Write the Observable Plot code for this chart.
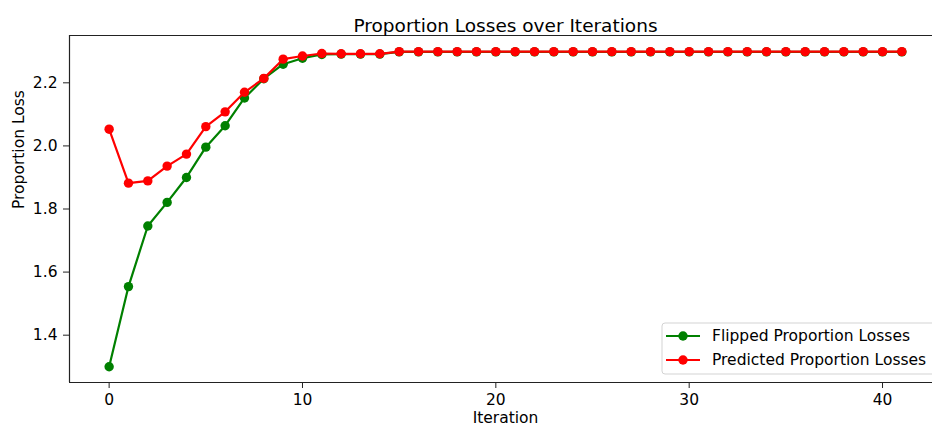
<!DOCTYPE html>
<html><head><meta charset="utf-8">
<script src="https://cdn.jsdelivr.net/npm/d3@7"></script>
<script src="https://cdn.jsdelivr.net/npm/@observablehq/plot@0.6"></script>
<style>
body{margin:0;background:#fff;}
#chart{position:relative;width:932px;height:434px;overflow:hidden;background:#fff}
</style>
</head><body><div id="chart"></div>
<script>
const iterations = [0,1,2,3,4,5,6,7,8,9,10,11,12,13,14,15,16,17,18,19,20,21,22,23,24,25,26,27,28,29,30,31,32,33,34,35,36,37,38,39,40,41];
const flipped = [1.300,1.554,1.746,1.821,1.900,1.996,2.064,2.152,2.213,2.259,2.278,2.290,2.291,2.291,2.291,
  2.298,2.298,2.298,2.298,2.298,2.298,2.298,2.298,2.298,2.298,2.298,2.298,2.298,2.298,2.298,2.298,2.298,2.298,2.298,2.298,2.298,2.298,2.298,2.298,2.298,2.298,2.298];
const predicted = [2.053,1.882,1.889,1.936,1.974,2.061,2.108,2.170,2.214,2.275,2.285,2.293,2.292,2.292,2.292,
  2.299,2.299,2.299,2.299,2.299,2.299,2.299,2.299,2.299,2.299,2.299,2.299,2.299,2.299,2.299,2.299,2.299,2.299,2.299,2.299,2.299,2.299,2.299,2.299,2.299,2.299,2.299];
const seriesNames = ["Flipped Proportion Losses", "Predicted Proportion Losses"];
const seriesColors = ["green", "red"];
const xTicks = [0, 10, 20, 30, 40];
const yTicks = [1.4, 1.6, 1.8, 2.0, 2.2];
const xDomain = [-2.05, 43.05];
const yDomain = [1.25, 2.35];
const titleText = "Proportion Losses over Iterations";
const xLabel = "Iteration";
const yLabel = "Proportion Loss";

const rows = s => iterations.map((it, i) => ({iteration: it, value: s[i]}));
const flippedRows = rows(flipped);
const predictedRows = rows(predicted);
const xMid = (xDomain[0] + xDomain[1]) / 2;
const font = "DejaVu Sans";
const dotR = 4.7;
const fs = 15.5;

const plot = Plot.plot({
  width: 932, height: 434,
  marginLeft: 69, marginRight: 0, marginTop: 35, marginBottom: 52,
  style: {fontFamily: font, background: "white", color: "#000", overflow: "visible"},
  x: {domain: xDomain, range: [69, 941]},
  y: {domain: yDomain},
  marks: [
    Plot.axisX({ticks: xTicks, tickSize: 6, tickPadding: 5, fontSize: fs, label: null, tickFormat: d => String(d), stroke: "#222"}),
    Plot.axisY({ticks: yTicks, tickSize: 6, tickPadding: 6, fontSize: fs, label: null, tickFormat: d3.format(".1f"), stroke: "#222"}),
    Plot.ruleX([xDomain[0]], {stroke: "#222", strokeWidth: 1.2}),
    Plot.ruleY([yDomain[0], yDomain[1]], {stroke: "#222", strokeWidth: 1.2}),
    Plot.line(flippedRows, {x: "iteration", y: "value", stroke: seriesColors[0], strokeWidth: 2.2}),
    Plot.dot(flippedRows, {x: "iteration", y: "value", fill: seriesColors[0], r: dotR}),
    Plot.line(predictedRows, {x: "iteration", y: "value", stroke: seriesColors[1], strokeWidth: 2.2}),
    Plot.dot(predictedRows, {x: "iteration", y: "value", fill: seriesColors[1], r: dotR}),
    Plot.text([{x: xMid, t: titleText}], {x: "x", text: "t", frameAnchor: "top", dy: -16.5, fontSize: 18.5, fill: "#000"}),
    Plot.text([{x: xMid, t: xLabel}], {x: "x", text: "t", frameAnchor: "bottom", dy: 40, fontSize: fs, fill: "#000"}),
    Plot.text([yLabel], {frameAnchor: "left", dx: -50, rotate: -90, fontSize: fs, fill: "#000"})
  ]
});
document.getElementById("chart").appendChild(plot);

// legend (lower right)
const svg = d3.select(plot);
const lg = svg.append("g").attr("font-family", font).attr("font-size", fs).attr("text-anchor", "start");
lg.append("rect").attr("x", 662).attr("y", 323).attr("width", 276).attr("height", 51)
  .attr("rx", 3).attr("fill", "white").attr("fill-opacity", 0.8).attr("stroke", "#d3d3d3");
seriesNames.forEach((name, i) => {
  const cy = 336 + i * 24;
  lg.append("line").attr("x1", 666).attr("x2", 700).attr("y1", cy).attr("y2", cy)
    .attr("stroke", seriesColors[i]).attr("stroke-width", 2.2);
  lg.append("circle").attr("cx", 683).attr("cy", cy).attr("r", dotR).attr("fill", seriesColors[i]);
  lg.append("text").attr("x", 712).attr("y", cy).attr("dy", "0.35em").attr("text-anchor", "start").attr("fill", "#000").text(name);
});
</script>
</body></html>
